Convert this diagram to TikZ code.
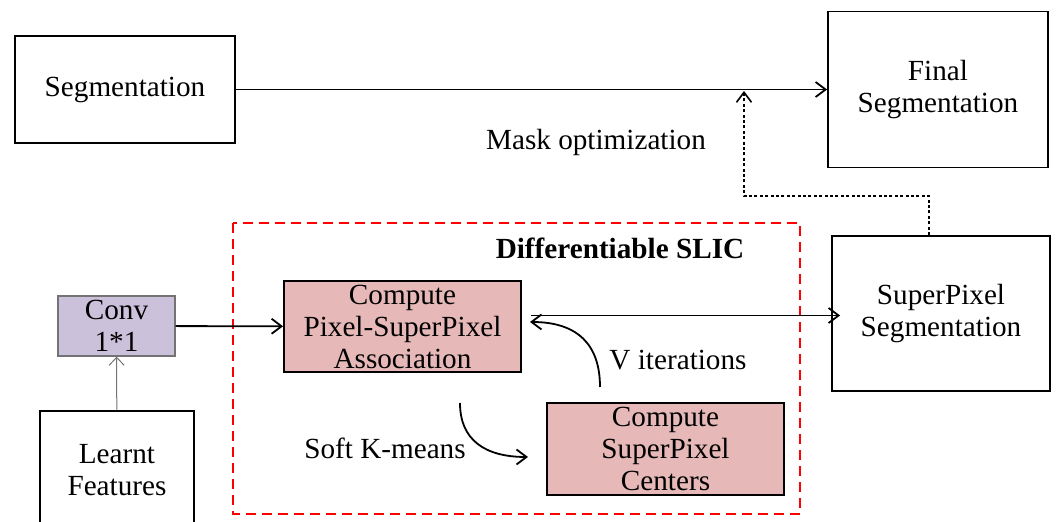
\documentclass[tikz,border=0pt]{standalone}
\usepackage{fontspec}
\setmainfont{Liberation Serif}
\usetikzlibrary{arrows.meta, positioning, calc}

\definecolor{stagefill}{HTML}{E6B9B8}
\definecolor{convfill}{HTML}{CCC1DA}
\newcommand{\boxfont}{\fontsize{14.6}{16}\selectfont}

\begin{document}
\begin{tikzpicture}[
    x=0.5pt, y=-0.5pt,
    >={Straight Barb[length=5pt, width=7.5pt]},
    line width=0.9pt,
    block/.style={draw, rectangle, align=center, inner sep=2pt, font=\boxfont},
    stage/.style={block, fill=stagefill},
    conv/.style={block, fill=convfill, draw=black!55, line width=0.6pt},
    lbl/.style={font=\boxfont, inner sep=1pt}
  ]
  \useasboundingbox (0,0) rectangle (1057,522);

  % --- blocks ---
  \node[block, minimum width=110pt, minimum height=53.5pt] (seg) at (125,89.5) {Segmentation};
  \node[block, minimum width=110pt, minimum height=78pt] (final) at (938,89.5) {Final\\ Segmentation};
  \node[block, minimum width=109pt, minimum height=77.5pt] (sppx) at (941,313.5) {SuperPixel\\ Segmentation};
  \node[conv, minimum width=58.5pt, minimum height=30pt] (conv) at (116.5,326) {Conv\\ 1*1};
  \node[block, minimum width=77pt, minimum height=59pt] (learnt) at (117,470) {Learnt\\ Features};

  % --- differentiable slic ---
  \draw[red, line width=1.1pt, dash pattern=on 5pt off 3pt] (233,223) rectangle (800,514);
  \node[lbl, font=\boxfont\bfseries] (slic) at (620,248) {Differentiable SLIC};
  \node[stage, minimum width=118.5pt, minimum height=45.5pt] (assoc) at (402.5,326.5) {Compute\\ Pixel-SuperPixel\\ Association};
  \node[stage, minimum width=118.5pt, minimum height=46pt] (centers) at (665.5,449) {Compute\\ SuperPixel\\ Centers};

  % --- labels ---
  \node[lbl] (mask) at (596,142) {Mask optimization};
  \node[lbl] (viter) at (678,360) {V iterations};
  \node[lbl] (kmeans) at (385,448) {Soft K-means};

  \coordinate (tapout) at (929,235);
  \coordinate (maskin) at (744,91);

  % --- connections ---
  \draw[->] (seg.east) -- (seg.east -| final.west);
  \draw[->] (conv) -- (assoc);
  \draw[->] ([xshift=4.5pt,yshift=5.5pt]assoc.east) -- ([xshift=4.5pt,yshift=5.5pt]assoc.east -| sppx.west);
  \draw[->, draw=black!55, line width=0.5pt, >={Straight Barb[length=4pt, width=7.5pt]}] (learnt) -- (conv);
  \draw[->] (600,387) .. controls (600,345) and (578,322) .. (530,322);
  \draw[->] (460,403) .. controls (460,440) and (485,457) .. (528,457);
  \draw[->, line width=0.8pt, dash pattern=on 1.5pt off 1.2pt] (tapout) -- ++(0,-39) -| (maskin);
\end{tikzpicture}
\end{document}
